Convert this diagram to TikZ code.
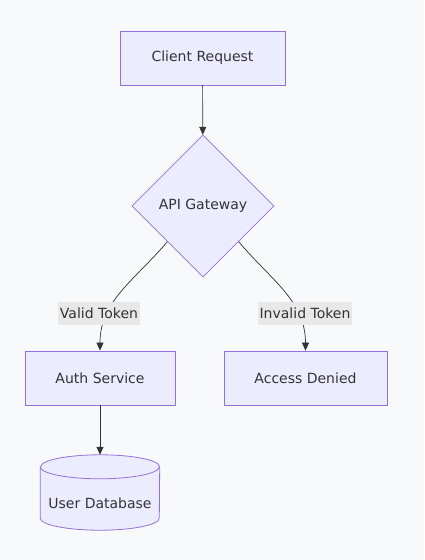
\documentclass[tikz,border=0pt]{standalone}
\usepackage{fontspec}
\setmainfont{DejaVu Sans}
\usetikzlibrary{positioning, arrows.meta, shapes.geometric, backgrounds}

\definecolor{boxfill}{HTML}{ECECFF}
\definecolor{boxline}{HTML}{9370DB}
\definecolor{edgeline}{HTML}{333333}
\definecolor{lblfill}{HTML}{E8E8E8}
\definecolor{canvas}{HTML}{F8F9FA}

\begin{document}
\begin{tikzpicture}[x=1pt, y=1pt,
    every node/.style={font=\fontsize{14}{16}\selectfont, text=edgeline},
    box/.style={draw=boxline, fill=boxfill, line width=0.8pt, minimum height=54pt},
    decide/.style={diamond, draw=boxline, fill=boxfill, line width=0.8pt, minimum width=142pt, minimum height=142pt, inner sep=0pt},
    store/.style={draw=boxline, fill=boxfill, line width=0.8pt},
    lbl/.style={fill=lblfill, inner sep=1.5pt, minimum height=23pt},
    arr/.style={draw=edgeline, line width=0.7pt, -{Triangle[length=8pt, width=7pt]}}]
\fill[canvas] (0,0) rectangle (424,-560);
\useasboundingbox (0,0) rectangle (424,-560);

\node[box, minimum width=165pt] (client) at (202.5,-58) {Client Request};
\node[decide] (gw) at (203,-206) {API Gateway};
\node[box, minimum width=150pt] (auth) at (100,-378) {Auth Service};
\node[box, minimum width=163pt] (denied) at (305.5,-378) {Access Denied};

% database cylinder
\node[minimum width=119pt, minimum height=75pt, inner sep=0pt] (db) at (100,-492.5) {};
\path[store] ([yshift=-12pt]db.north west) -- ([yshift=12pt]db.south west)
  arc[start angle=180, end angle=360, x radius=59.5pt, y radius=12pt]
  -- ([yshift=-12pt]db.north east)
  arc[start angle=0, end angle=180, x radius=59.5pt, y radius=12pt] -- cycle;
\draw[store, fill=none] ([yshift=-12pt]db.north west)
  arc[start angle=180, end angle=360, x radius=59.5pt, y radius=12pt];
\node (dbtext) at (100,-503) {User Database};

\draw[arr] (client) -- (gw);
\draw[arr] (gw.south west) to[out=-130, in=90] (auth.north);
\draw[arr] (gw.south east) to[out=-50, in=90] (denied.north);
\draw[arr] (auth) -- (db.north);

% edge labels
\node[lbl] (valid) at (99,-313) {Valid Token};
\node[lbl] (invalid) at (305,-313) {Invalid Token};
\end{tikzpicture}
\end{document}
